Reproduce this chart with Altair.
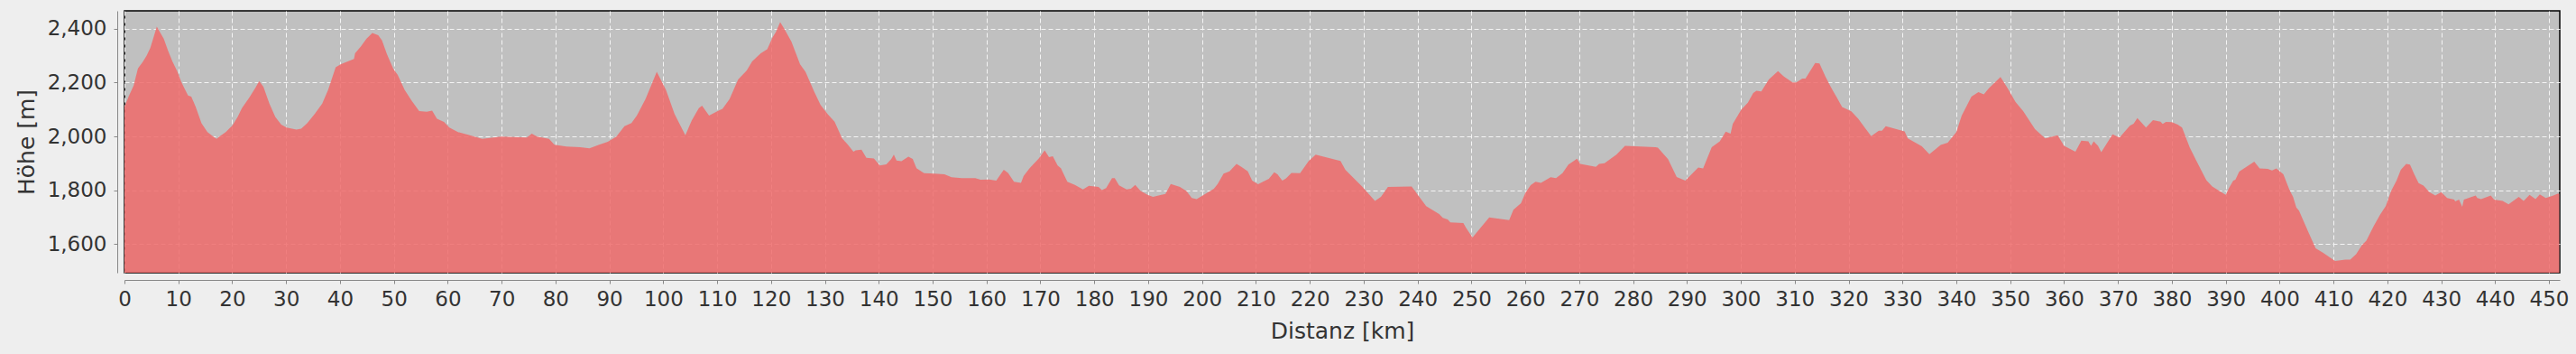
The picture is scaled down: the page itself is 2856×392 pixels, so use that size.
import altair as alt
import pandas as pd

# Distance along the route [km]
distanz_km = [
    0, 0.8, 1.7, 2.5, 3.4, 4.1, 4.8, 6.0, 7.3, 8.1, 8.9, 9.8, 10.6, 11.8, 12.4, 13.2,
    14.3, 15.4, 16.5, 17.1, 17.6, 18.8, 20.0, 21.0, 21.8, 23.2, 24.4, 25.0, 25.8, 26.9,
    28.0, 29.1, 30.1, 31.9, 32.8, 33.9, 35.3, 36.7, 37.8, 39.2, 40.1, 42.6, 42.8, 43.9,
    44.9, 46.0, 47.1, 47.8, 48.7, 49.9, 50.7, 52.0, 53.3, 54.7, 56.1, 57.1, 58.0, 59.3,
    60.3, 61.9, 64.1, 66.4, 69.9, 74.7, 75.6, 76.6, 78.8, 79.8, 82.0, 84.6, 86.3, 88.1,
    89.7, 91.3, 92.8, 94.1, 95.1, 96.7, 98.8, 100.5, 102.1, 103.1, 104.1, 105.3, 106.6,
    107.2, 108.5, 110.1, 111.0, 112.3, 113.9, 115.5, 116.5, 118.1, 119.3, 120.3, 120.9,
    121.7, 122.5, 123.8, 125.4, 126.4, 128.0, 129.2, 130.5, 131.8, 133.2, 134.2, 135.3,
    135.7, 136.8, 137.7, 139.1, 140.2, 141.4, 142.3, 142.8, 143.3, 144.2, 145.5, 146.3,
    147.0, 148.4, 150.3, 152.2, 153.5, 155.4, 157.9, 158.9, 160.5, 161.8, 163.2, 164.0,
    165.1, 166.4, 166.9, 168.0, 169.7, 170.8, 171.6, 172.3, 173.2, 173.8, 175.0, 176.4,
    177.9, 179.0, 180.8, 181.4, 182.2, 183.3, 183.8, 184.6, 186.0, 186.8, 187.6, 188.6,
    189.9, 190.9, 192.1, 193.2, 194.2, 195.9, 197.1, 198.1, 199.0, 200.6, 202.2, 202.9,
    204.0, 205.1, 206.4, 207.3, 208.5, 209.3, 210.4, 211.3, 212.4, 213.4, 214.0, 214.9,
    215.6, 216.6, 218.2, 219.8, 221.1, 225.7, 226.6, 229.7, 232.1, 233.2, 234.5, 238.9,
    241.6, 244.0, 244.7, 245.6, 246.1, 248.5, 249.0, 250.2, 253.3, 257.0, 257.8, 259.2,
    260.0, 261.0, 261.9, 262.9, 264.7, 265.7, 266.9, 268.0, 269.6, 270.2, 273.1, 273.7,
    274.7, 276.9, 278.5, 284.2, 284.6, 286.5, 288.1, 289.7, 292.1, 293.0, 294.6, 296.1,
    297.2, 298.1, 298.5, 300.1, 301.3, 302.3, 302.9, 303.8, 305.2, 306.9, 308.0, 309.6,
    310.3, 311.4, 312.0, 313.8, 314.6, 315.7, 316.7, 317.8, 318.8, 320.5, 321.8, 323.0,
    324.2, 325.6, 326.2, 326.9, 330.4, 331.0, 333.6, 335.0, 337.1, 338.4, 340.0, 341.0,
    342.8, 344.1, 345.1, 346.0, 348.2, 349.5, 351.0, 352.4, 354.6, 356.5, 358.8, 360.0,
    362.1, 363.2, 364.5, 365.0, 365.5, 366.3, 366.9, 369.0, 370.3, 372.2, 372.9, 373.6,
    375.2, 376.5, 377.9, 378.3, 378.9, 380.0, 381.1, 381.9, 383.3, 384.4, 386.4, 387.5,
    390.0, 390.6, 391.4, 391.8, 392.5, 395.3, 396.3, 397.8, 398.6, 399.4, 400.7, 401.8,
    402.5, 403.1, 403.6, 405.3, 406.7, 408.1, 410.3, 412.2, 413.1, 414.2, 415.3, 416.1,
    417.5, 418.6, 419.7, 420.7, 421.7, 422.5, 423.5, 424.2, 425.0, 425.8, 426.7, 427.8,
    428.9, 430.0, 431.1, 432.4, 432.6, 433.3, 433.9, 434.2, 436.4, 436.7, 437.4, 439.2,
    439.8, 441.4, 442.5, 444.4, 445.3, 446.4, 447.5, 448.3, 449.4, 450.8, 451.7, 451.9,
]

# Elevation [m]
hoehe_m = [
    2110, 2150, 2189, 2253, 2277, 2300, 2329, 2408, 2363, 2318, 2279, 2242, 2200, 2152, 2148, 2111,
    2049, 2016, 1999, 1991, 1999, 2016, 2040, 2072, 2105, 2145, 2184, 2206, 2184, 2122,
    2072, 2044, 2033, 2025, 2029, 2049, 2083, 2122, 2173, 2257, 2268, 2288, 2309, 2335,
    2363, 2385, 2376, 2357, 2307, 2251, 2229, 2173, 2133, 2094, 2092, 2096, 2066, 2054,
    2033, 2016, 2004, 1991, 1999, 1996, 2010, 1999, 1991, 1969, 1962, 1960, 1956, 1969,
    1980, 1999, 2038, 2050, 2077, 2139, 2240, 2173, 2083, 2044, 2004, 2060, 2105,
    2114, 2077, 2094, 2103, 2139, 2212, 2245, 2279, 2309, 2324, 2369, 2388,
    2425, 2399, 2352, 2268, 2240, 2167, 2117, 2083, 2055, 1993, 1971, 1943,
    1948, 1951, 1920, 1918, 1892, 1896, 1915, 1932, 1910, 1908, 1925, 1916,
    1882, 1863, 1862, 1859, 1848, 1845, 1845, 1839, 1840, 1836, 1876, 1864,
    1831, 1827, 1853, 1882, 1918, 1948, 1923, 1926, 1892, 1882, 1831, 1820,
    1803, 1816, 1812, 1800, 1808, 1845, 1845, 1818, 1803, 1805, 1820, 1797,
    1783, 1775, 1781, 1786, 1823, 1812, 1797, 1771, 1767, 1786, 1805, 1823,
    1862, 1870, 1898, 1887, 1870, 1836, 1822, 1831, 1842, 1867, 1859, 1836,
    1844, 1864, 1863, 1909, 1932, 1909, 1876, 1814, 1760, 1775, 1812, 1814,
    1741, 1711, 1697, 1691, 1680, 1678, 1660, 1624, 1699, 1689, 1727, 1752,
    1789, 1819, 1831, 1827, 1848, 1845, 1863, 1895, 1917, 1898, 1887, 1898,
    1900, 1932, 1965, 1960, 1958, 1915, 1849, 1836, 1884, 1881, 1960, 1982,
    2018, 2010, 2046, 2100, 2125, 2161, 2170, 2167, 2212, 2243, 2223, 2201,
    2201, 2215, 2215, 2273, 2271, 2223, 2184, 2145, 2109, 2093, 2066, 2033,
    2001, 2021, 2021, 2038, 2019, 1993, 1963, 1934, 1968, 1977, 2016, 2077,
    2148, 2165, 2156, 2178, 2221, 2180, 2128, 2094, 2027, 1993, 2004, 1965,
    1943, 1984, 1982, 1965, 1982, 1965, 1941, 2008, 1996, 2040, 2047, 2068,
    2033, 2061, 2055, 2046, 2054, 2053, 2044, 2033, 1960, 1915, 1837, 1814,
    1783, 1808, 1836, 1839, 1869, 1906, 1881, 1879, 1873, 1881, 1859, 1803,
    1775, 1736, 1724, 1646, 1584, 1567, 1537, 1542, 1542, 1562, 1596, 1612,
    1668, 1707, 1741, 1797, 1836, 1876, 1898, 1895, 1859, 1826, 1817, 1793,
    1780, 1793, 1771, 1765, 1758, 1765, 1738, 1765, 1780, 1771, 1767, 1780,
    1765, 1760, 1747, 1775, 1760, 1783, 1767, 1784, 1771, 1780, 1788, 1785,
]

x_ticks = list(range(0, 451, 10))
y_ticks = [1600, 1800, 2000, 2200, 2400]

df = pd.DataFrame({"Distanz": distanz_km, "Hoehe": hoehe_m})

FONT = "DejaVu Sans"

chart = (
    alt.Chart(df)
    .mark_area(color="#ef6b6b", opacity=0.86, clip=True, interpolate="linear")
    .encode(
        x=alt.X(
            "Distanz:Q",
            scale=alt.Scale(domain=[0, 452], nice=False, zero=False),
            axis=alt.Axis(
                title="Distanz [km]",
                values=x_ticks,
                format="d",
                labelFlush=False,
                offset=8,
                labelPadding=6,
                titlePadding=11,
            ),
        ),
        y=alt.Y(
            "Hoehe:Q",
            scale=alt.Scale(domain=[1493, 2467], nice=False, zero=False),
            axis=alt.Axis(
                title="Höhe [m]",
                values=y_ticks,
                format=",.0f",
                offset=8,
                labelPadding=8,
                titlePadding=10,
            ),
        ),
    )
    .properties(
        width=2700,
        height=290,
        autosize=alt.AutoSizeParams(type="none"),
        padding={"left": 138, "top": 12, "right": 18, "bottom": 90},
    )
    .configure(background="#eeeeee")
    .configure_view(fill="#c0c0c0", stroke="#000000", strokeWidth=1.5)
    .configure_axis(
        grid=True,
        gridColor="#f4f4f4",
        gridDash=[5, 3],
        gridWidth=1,
        gridOpacity=1,
        domainColor="#888888",
        domainWidth=1,
        tickColor="#888888",
        tickSize=4,
        labelColor="#333333",
        labelFont=FONT,
        labelFontSize=23,
        titleColor="#333333",
        titleFont=FONT,
        titleFontSize=25,
        titleFontWeight="normal",
    )
)

chart.save("out.html", embed_options={"renderer": "svg", "actions": False})
